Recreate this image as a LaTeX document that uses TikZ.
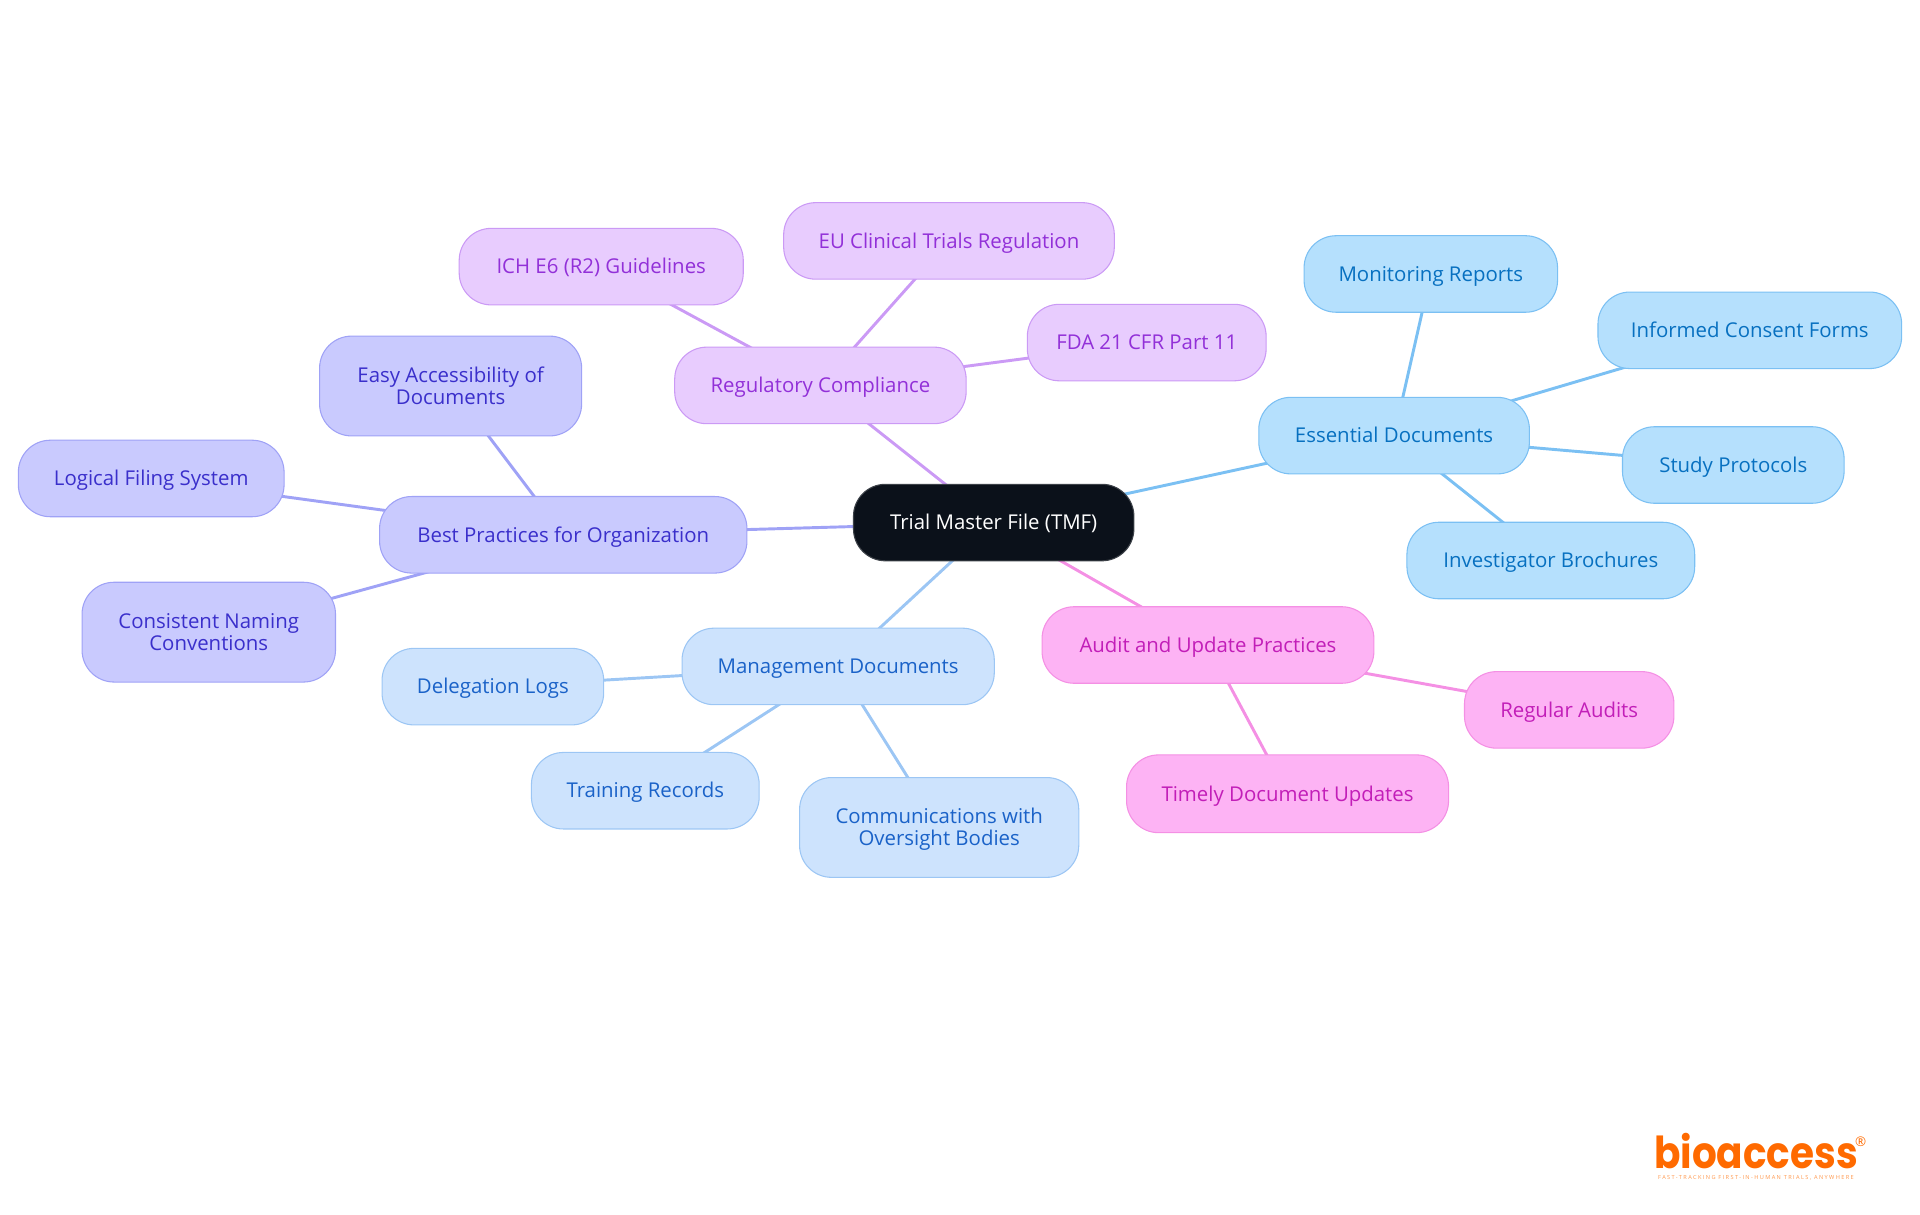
\documentclass[tikz,border=0pt]{standalone}
\usepackage{fontspec}
\setmainfont{Open Sans}
\newfontfamily\logofont[FakeStretch=0.885]{Poppins}
\usetikzlibrary{backgrounds}
\definecolor{tmfF}{HTML}{0B111A}
\definecolor{essF}{HTML}{B5E0FD}\definecolor{essD}{HTML}{7BC0F3}\definecolor{essT}{HTML}{0770C0}
\definecolor{regF}{HTML}{E8CCFE}\definecolor{regD}{HTML}{CB9AF5}\definecolor{regT}{HTML}{9230D8}
\definecolor{bestF}{HTML}{C9CAFE}\definecolor{bestD}{HTML}{9FA2F6}\definecolor{bestT}{HTML}{3A2FCB}
\definecolor{mgmtF}{HTML}{CDE3FD}\definecolor{mgmtD}{HTML}{9CC6F4}\definecolor{mgmtT}{HTML}{1A62C8}
\definecolor{audF}{HTML}{FDB3F4}\definecolor{audD}{HTML}{F490E4}\definecolor{audT}{HTML}{C21EB8}
\definecolor{logoC}{HTML}{FF6A00}
\newcommand{\mmst}[1]{\rule[-2.8pt]{0pt}{16.5pt}\raisebox{0pt}[0pt][0pt]{#1}}
\tikzset{
  x=0.9184pt,y=-0.9184pt,
  mm/.style={draw,rounded corners=24pt,line width=0.8pt,align=center,inner sep=0pt,
    font=\fontsize{15.3}{16.6}\selectfont},
  tmfbox/.style={mm,fill=tmfF,draw=tmfF!80!white,text=white},
  essbox/.style={mm,fill=essF,draw=essD,text=essT},
  regbox/.style={mm,fill=regF,draw=regD,text=regT},
  bestbox/.style={mm,fill=bestF,draw=bestD,text=bestT},
  mgmtbox/.style={mm,fill=mgmtF,draw=mgmtD,text=mgmtT},
  audbox/.style={mm,fill=audF,draw=audD,text=audT},
  link/.style={line width=2.2pt},
}
\newcommand{\mmnode}[7]{% style, name, x0, y0, x1, y1, text
  \node[#1,minimum width=\the\dimexpr #5pt*9184/10000-#3pt*9184/10000\relax,
        minimum height=\the\dimexpr #6pt*9184/10000-#4pt*9184/10000\relax]
   (#2) at ({(#3+#5)/2},{(#4+#6)/2}) {#7};}
\begin{document}
\begin{tikzpicture}
\useasboundingbox (0,0) rectangle (1568,992.25);
\mmnode{tmfbox}{tmf}{697}{395.5}{926}{458}{\mmst{Trial Master File (TMF)}}
\mmnode{essbox}{ess}{1028}{324.5}{1249}{387}{\mmst{Essential Documents}}
\mmnode{essbox}{mon}{1065}{192.5}{1272}{255}{\mmst{Monitoring Reports}}
\mmnode{essbox}{inf}{1305}{238.5}{1553}{301}{\mmst{Informed Consent Forms}}
\mmnode{essbox}{stu}{1325}{348.5}{1506}{411}{\mmst{Study Protocols}}
\mmnode{essbox}{inv}{1149}{426.5}{1384}{489}{\mmst{Investigator Brochures}}
\mmnode{regbox}{reg}{551}{283.5}{789}{346}{\mmst{Regulatory Compliance}}
\mmnode{regbox}{ich}{375}{186.5}{607}{249}{\mmst{ICH E6 (R2) Guidelines}}
\mmnode{regbox}{eu}{640}{165.5}{910}{228}{\mmst{EU Clinical Trials Regulation}}
\mmnode{regbox}{fda}{839}{248.5}{1034}{311}{\mmst{FDA 21 CFR Part 11}}
\mmnode{bestbox}{best}{310}{405.5}{610}{468}{\mmst{Best Practices for Organization}}
\mmnode{bestbox}{easy}{261}{274.5}{475}{356}{\mmst{Easy Accessibility of}\\\mmst{Documents}}
\mmnode{bestbox}{log}{15}{359.5}{232}{422}{\mmst{Logical Filing System}}
\mmnode{bestbox}{con}{67}{475.5}{274}{557}{\mmst{Consistent Naming}\\\mmst{Conventions}}
\mmnode{mgmtbox}{mgm}{557}{513}{812}{575.5}{\mmst{Management Documents}}
\mmnode{mgmtbox}{del}{312}{529.5}{493}{592}{\mmst{Delegation Logs}}
\mmnode{mgmtbox}{tra}{434}{614.5}{620}{677}{\mmst{Training Records}}
\mmnode{mgmtbox}{com}{653}{635}{881}{716.5}{\mmst{Communications with}\\\mmst{Oversight Bodies}}
\mmnode{audbox}{aud}{851}{495.5}{1122}{558}{\mmst{Audit and Update Practices}}
\mmnode{audbox}{regu}{1196}{548.5}{1367}{611}{\mmst{Regular Audits}}
\mmnode{audbox}{tim}{920}{616.5}{1183}{680}{\mmst{Timely Document Updates}}
\begin{scope}[on background layer]
\draw[link,essD] (tmf.center)--(ess.center);
\draw[link,essD] (ess.center)--(mon.center);
\draw[link,essD] (ess.center)--(inf.center);
\draw[link,essD] (ess.center)--(stu.center);
\draw[link,essD] (ess.center)--(inv.center);
\draw[link,regD] (tmf.center)--(reg.center);
\draw[link,regD] (reg.center)--(ich.center);
\draw[link,regD] (reg.center)--(eu.center);
\draw[link,regD] (reg.center)--(fda.center);
\draw[link,bestD] (tmf.center)--(best.center);
\draw[link,bestD] (best.center)--(easy.center);
\draw[link,bestD] (best.center)--(log.center);
\draw[link,bestD] (best.center)--(con.center);
\draw[link,mgmtD] (tmf.center)--(mgm.center);
\draw[link,mgmtD] (mgm.center)--(del.center);
\draw[link,mgmtD] (mgm.center)--(tra.center);
\draw[link,mgmtD] (mgm.center)--(com.center);
\draw[link,audD] (tmf.center)--(aud.center);
\draw[link,audD] (aud.center)--(regu.center);
\draw[link,audD] (aud.center)--(tim.center);
\end{scope}
\node[anchor=base,inner sep=0pt,text depth=0pt,text=logoC,font=\logofont\bfseries\fontsize{33}{33}\selectfont] (logo) at (1434,954) {bioaccess};
\node[anchor=center,inner sep=0pt,text=logoC,font=\fontsize{10}{10}\selectfont] (regmark) at (1519.6,932.6) {®};
\node[anchor=center,inner sep=0pt,text=logoC!70!white,font=\addfontfeature{LetterSpace=25}\fontsize{4.2}{5}\selectfont] (tag) at (1434,961.5) {FAST-TRACKING FIRST-IN-HUMAN TRIALS, ANYWHERE};
\end{tikzpicture}
\end{document}
